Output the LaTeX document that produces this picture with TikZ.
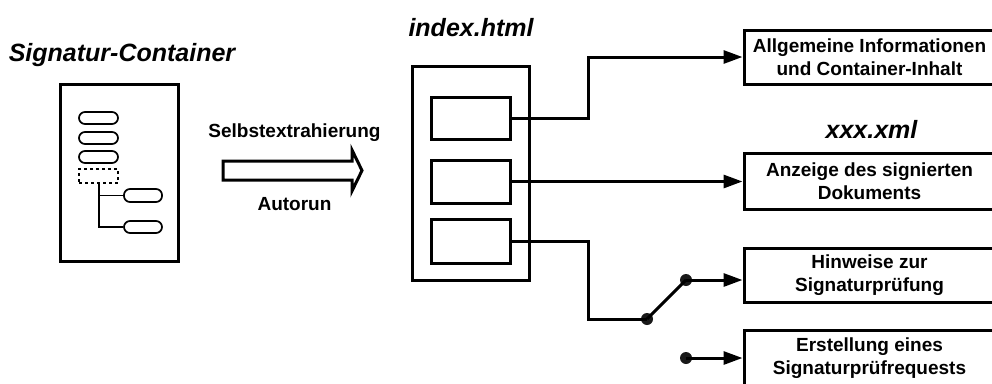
\documentclass[tikz,border=0pt]{standalone}
\usepackage{fontspec}
\setmainfont{Liberation Sans}
\usetikzlibrary{arrows.meta}
\tikzset{
  title/.style={font=\fontsize{25}{30}\selectfont\bfseries\itshape, anchor=base, inner sep=0pt},
  lbl/.style={font=\fontsize{19}{23}\selectfont\bfseries, anchor=base, inner sep=0pt},
  frame/.style={draw, line width=3pt, inner sep=0pt},
  rbox/.style={draw, line width=3pt, inner sep=0pt, minimum width=251pt, minimum height=55pt,
     align=center, font=\fontsize{19}{23}\selectfont\bfseries},
  pill/.style={draw, line width=1.7pt, rounded corners=6pt, minimum width=39pt, minimum height=12pt, inner sep=0pt},
  conn/.style={line width=3pt},
  arr/.style={conn, -{Triangle[length=19pt,width=13pt]}},
  dot/.style={circle, fill=black!90, minimum size=12pt, inner sep=0pt},
}
\begin{document}
\begin{tikzpicture}[x=1pt,y=-1pt]
\useasboundingbox (0,0) rectangle (992,383);
\clip (0,0) rectangle (992,383);

% Signatur-Container
\node[title] (t1) at (122,61) {Signatur-Container};
\node[frame, minimum width=118pt, minimum height=177pt] (sc) at (119,172.5) {};
\node[pill] (p1) at (98.5,118) {};
\node[pill] (p2) at (98.5,138) {};
\node[pill] (p3) at (98.5,157) {};
\node[draw, dashed, line width=1.7pt, minimum width=39pt, minimum height=14pt, inner sep=0pt] (pd) at (98.5,176) {};
\node[pill, minimum width=38pt, minimum height=13pt] (p4) at (143,195.5) {};
\node[pill, minimum width=38pt, minimum height=12pt] (p5) at (143,227) {};
\coordinate (b1) at (99,195.5);
\coordinate (b2) at (99,227);
\draw[line width=1.7pt] (pd.south -| b1) -- (b2) -- (p5.west);
\draw[line width=1.7pt] (b1) -- (p4.west);

% block arrow
\draw[line width=3pt, line join=miter] (223,161) -- (352,161) -- (352,150) -- (362,170.5) -- (352,191) -- (352,180) -- (223,180) -- cycle;
\node[lbl] (sx) at (294.5,137) {Selbstextrahierung};
\node[lbl] (ar) at (294.5,210) {Autorun};

% index.html
\node[title] (t2) at (471,36) {index.html};
\node[frame, minimum width=117pt, minimum height=214pt] (ix) at (470.5,173) {};
\node[frame, minimum width=79pt, minimum height=42pt] (in1) at (470.5,118) {};
\node[frame, minimum width=79pt, minimum height=43pt] (in2) at (470.5,181.5) {};
\node[frame, minimum width=79pt, minimum height=44pt] (in3) at (470.5,241) {};

% right boxes
\node[rbox, minimum height=54pt] (r1) at (869.5,57) {Allgemeine Informationen\\und Container-Inhalt};
\node[title] (t3) at (871.5,138) {xxx.xml};
\node[rbox, minimum height=56pt] (r2) at (869.5,181) {Anzeige des signierten\\Dokuments};
\node[rbox, minimum height=54pt] (r3) at (869.5,275.5) {Hinweise zur\\Signaturprüfung};
\node[rbox, minimum height=56pt] (r4) at (869.5,358) {Erstellung eines\\Signaturprüfrequests};

% connectors
\coordinate (k1) at (588,57);
\draw[arr] (in1.east) -| (k1) -- (r1.west);
\draw[arr] (in2.east) -- (in2.east -| r2.west);
\coordinate (k3) at (588,319);
\node[dot] (d1) at (647,319) {};
\node[dot] (d2) at (686,280) {};
\node[dot] (d3) at (686,358) {};
\draw[conn] (in3.east) -| (k3) -- (d1.center);
\draw[conn] (d1.center) -- (d2.center);
\draw[arr] (d2.center) -- (d2 -| r3.west);
\draw[arr] (d3.center) -- (d3 -| r4.west);
\end{tikzpicture}
\end{document}
